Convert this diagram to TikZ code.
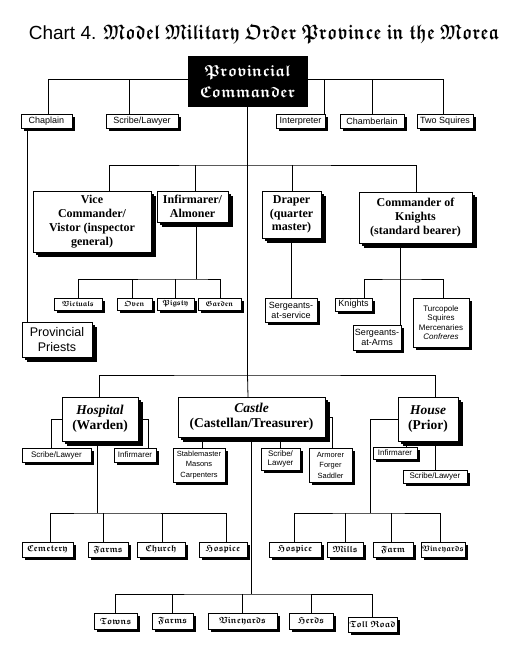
\documentclass[tikz,border=0pt]{standalone}
\usepackage{fontspec}
\setmainfont{Liberation Serif}
\setsansfont{Liberation Sans}
\DeclareFontFamily{U}{myfk}{\fontdimen2\font=0.3\fontdimen6\font}
\DeclareFontShape{U}{myfk}{b}{n}{<-> eufb10}{}
\newcommand\fkfamily{\usefont{U}{myfk}{b}{n}}
\usetikzlibrary{shadows}
\newcommand\bx[7][]{\node[box,#1,minimum width={#5-#3},minimum height={#6-#4}] (#2) at ({(#3+#5)/2},{(#4+#6)/2}) {#7};}
\newcommand\fs[2]{\fontsize{#1}{#2}\selectfont}
\tikzset{
  box/.style={draw, fill=white, line width=0.8pt, inner sep=0.5pt, outer sep=0pt, align=center,
    drop shadow={shadow xshift=3pt,shadow yshift=-3pt,fill=black,opacity=1}},
  bigshadow/.style={drop shadow={shadow xshift=4.5pt,shadow yshift=-4.5pt,fill=black,opacity=1}},
  sml/.style={font=\sffamily\fs{9}{10}},
  tny/.style={font=\sffamily\fs{8}{9.5}},
  tnyc/.style={font=\sffamily\fs{7.5}{10.5}},
  prv/.style={font=\sffamily\fs{12.5}{15}},
  hvy/.style={font=\bfseries\fs{12}{13.8}},
  hvyb/.style={font=\bfseries\fs{13.5}{15}},
  gth/.style={font=\fkfamily\fs{7.5}{10}},
  gthb/.style={font=\fkfamily\fs{9}{11}},
  conn/.style={line width=0.8pt},
}
\begin{document}
\begin{tikzpicture}[x=1pt,y=-1pt]
\fill[white] (0,0) rectangle (509,666);
\useasboundingbox (0,0) rectangle (509,666);

% title
\node (title) at (264,34) {\sffamily\fs{19}{22}Chart 4. \scalebox{0.83}[1]{\fkfamily\fs{21}{22}Model Military Order Province in the Morea}};

% top box
\node[draw=black, fill=black, text=white, line width=0.8pt, align=center, inner sep=0pt,
  minimum width=119, minimum height=50, font=\fkfamily\fs{16}{21}] (pc) at (247.5,81) {Provincial\\Commander};

% row 1
\bx[sml]{chap}{21}{114}{72}{128}{Chaplain}
\bx[sml]{scr}{106}{114}{178}{128}{Scribe/Lawyer}
\bx[sml]{interp}{276}{114}{325}{128}{Interpreter}
\bx[sml]{chamb}{340}{114}{404}{128}{Chamberlain}
\bx[sml]{squires}{417}{114}{473}{128}{Two Squires}

% middle row
\bx[hvy,bigshadow]{vc}{33}{191}{151}{252}{Vice\\Commander/\\Vistor (inspector\\general)}
\bx[hvy,bigshadow]{inf}{157}{191}{228}{222}{Infirmarer/\\Almoner}
\bx[hvy,bigshadow]{draper}{262}{191}{321}{238}{Draper\\(quarter\\master)}
\bx[hvy,bigshadow]{cok}{359}{192}{472}{243}{Commander of\\Knights\\(standard bearer)}

\bx[gth]{vict}{54}{298}{102}{310}{Victuals}
\bx[gth]{oven}{117}{298}{152}{310}{Oven}
\bx[gth]{pig}{157}{298}{194}{310}{Pigsty}
\bx[gth]{gard}{198}{298}{241}{310}{Garden}

\bx[prv,bigshadow]{prov}{22}{322}{92}{357}{Provincial\\Priests}
\bx[sml]{serv}{265}{298}{317}{322}{Sergeants-\\at-service}
\bx[sml]{knights}{335}{298}{372}{311}{Knights}
\bx[sml]{sarms}{353}{325}{401}{350}{Sergeants-\\at-Arms}
\bx[tny]{turc}{413}{298}{469}{347}{Turcopole\\Squires\\Mercenaries\\\textit{Confreres}}

% lower
\bx[hvyb,bigshadow]{hosp}{62}{397}{138}{441}{\textit{Hospital}\\(Warden)}
\bx[hvyb,bigshadow]{castle}{178}{397}{325}{437}{\textit{Castle}\\(Castellan/Treasurer)}
\bx[hvyb,bigshadow]{house}{398}{397}{458}{441}{\textit{House}\\(Prior)}

\bx[tny]{hscr}{22}{448}{91}{462}{Scribe/Lawyer}
\bx[tny]{hinf}{114}{448}{156}{462}{Infirmarer}
\bx[tnyc]{stable}{173}{448}{225}{482}{Stablemaster\\Masons\\Carpenters}
\bx[tny]{cscr}{261}{448}{300}{470}{Scribe/\\Lawyer}
\bx[tnyc]{armor}{309}{448}{352}{482}{Armorer\\Forger\\Saddler}
\bx[tny]{hoinf}{373}{447}{417}{459}{Infirmarer}
\bx[tny]{hoscr}{403}{470}{467}{483}{Scribe/Lawyer}

\bx[gthb]{cem}{22}{542}{73}{557}{Cemetery}
\bx[gthb]{farms}{88}{542}{128}{557}{Farms}
\bx[gthb]{church}{137}{542}{185}{557}{Church}
\bx[gthb]{hospa}{199}{542}{247}{557}{Hospice}
\bx[gthb]{hospb}{269}{542}{321}{557}{Hospice}
\bx[gthb]{mills}{327}{542}{363}{557}{Mills}
\bx[gthb]{farm}{373}{542}{413}{557}{Farm}
\bx[gthb,font=\fkfamily\fs{8}{10}]{vine}{421}{542}{465}{557}{Vineyards}

\bx[gthb]{towns}{94}{613}{137}{629}{Towns}
\bx[gthb]{farmsb}{152}{613}{193}{629}{Farms}
\bx[gthb]{vineb}{208}{613}{277}{629}{Vineyards}
\bx[gthb]{herds}{289}{613}{333}{629}{Herds}
\bx[gthb]{toll}{348}{617}{397}{632}{Toll Road}

% junctions
\coordinate (jt) at (247.5,79);
\coordinate (jm) at (247.5,165);
\coordinate (jb) at (247.5,375);
\coordinate (ji) at (196,279);
\coordinate (jk) at (400,279);
\coordinate (jh) at (97,513);
\coordinate (jr) at (370,513);
\coordinate (jc) at (251.5,594);

% connectors top
\draw[conn] (pc.west |- jt) -| ([xshift=1.5pt]chap.north);
\draw[conn] (pc.west |- jt) -| ([xshift=-13pt]scr.north);
\draw[conn] (pc.east |- jt) -| ([xshift=23.5pt]interp.north);
\draw[conn] (pc.east |- jt) -| (chamb.north);
\draw[conn] (pc.east |- jt) -| ([xshift=-2pt]squires.north);
\draw[conn] (pc) -- (jb);
\path ([xshift=-19.5pt]chap.south) coordinate (cp);
\draw[conn] (cp) -- (cp |- prov.north);

% middle connectors
\draw[conn] ([xshift=17pt]vc.north) |- (jm) -| ([xshift=0.5pt]cok.north);
\path ([xshift=2.5pt]inf.north) coordinate (ip);
\draw[conn] (ip) -- (ip |- jm);
\path ([xshift=0.5pt]draper.north) coordinate (dp);
\draw[conn] (dp) -- (dp |- jm);
\path ([xshift=3.5pt]inf.south) coordinate (is);
\draw[conn] (is) -- (ji);
\draw[conn] (vict.north) |- (ji) -| ([xshift=0.5pt]gard.north);
\path ([xshift=-2.5pt]oven.north) coordinate (op);
\draw[conn] (op) -- (op |- ji);
\draw[conn] (pig.north) -- (pig.north |- ji);
\draw[conn] (draper.south) -- (draper.south |- serv.north);
\path ([xshift=-15.5pt]cok.south) coordinate (ks);
\draw[conn] (ks) -- (ks |- sarms.north);
\draw[conn] ([xshift=10.5pt]knights.north) |- (jk) -| ([xshift=2pt]turc.north);

% lower connectors
\draw[conn] ([xshift=-1pt]hosp.north) |- (jb) -| ([xshift=7pt]house.north);
\path ([xshift=-3.5pt]castle.north) coordinate (cn);
\draw[conn] (jb) -- (cn);
\draw[conn] (hosp.west) -| ([xshift=-5.5pt]hscr.north);
\draw[conn] (hosp.east) -| ([xshift=13pt]hinf.north);
\path ([xshift=-3pt]hosp.south) coordinate (hs);
\draw[conn] (hs) -- (hs |- jh);
\draw[conn] ([xshift=2.5pt]cem.north) |- (hs |- jh) -| ([xshift=3pt]hospa.north);
\path ([xshift=-5pt]farms.north) coordinate (fp);
\draw[conn] (fp) -- (fp |- jh);
\path ([xshift=1pt]church.north) coordinate (chp);
\draw[conn] (chp) -- (chp |- jh);

\path ([xshift=3pt]stable.north) coordinate (sp);
\draw[conn] (sp) -- (sp |- castle.south);
\draw[conn] (cscr.north) -- (cscr.north |- castle.south);
\draw[conn] (castle.east) -| ([xshift=1.5pt]armor.north);
\draw[conn] (castle.south) -- (jc);
\draw[conn] (towns.north) |- (jc) -| (toll.north);
\draw[conn] (farmsb.north) -- (farmsb.north |- jc);
\draw[conn] (vineb.north) -- (vineb.north |- jc);
\draw[conn] (herds.north) -- (herds.north |- jc);

\draw[conn] (house.west) -| (jr);
\draw[conn] ([xshift=-1pt]hospb.north) |- (jr) -| ([xshift=-3pt]vine.north);
\draw[conn] (mills.north) -- (mills.north |- jr);
\path ([xshift=-2pt]farm.north) coordinate (fm);
\draw[conn] (fm) -- (fm |- jr);
\path ([xshift=11pt]hoinf.north) coordinate (hip);
\draw[conn] (hip) -- (hip |- house.south);
\draw[conn] (hoscr.north) -- (hoscr.north |- house.south);
\end{tikzpicture}
\end{document}
